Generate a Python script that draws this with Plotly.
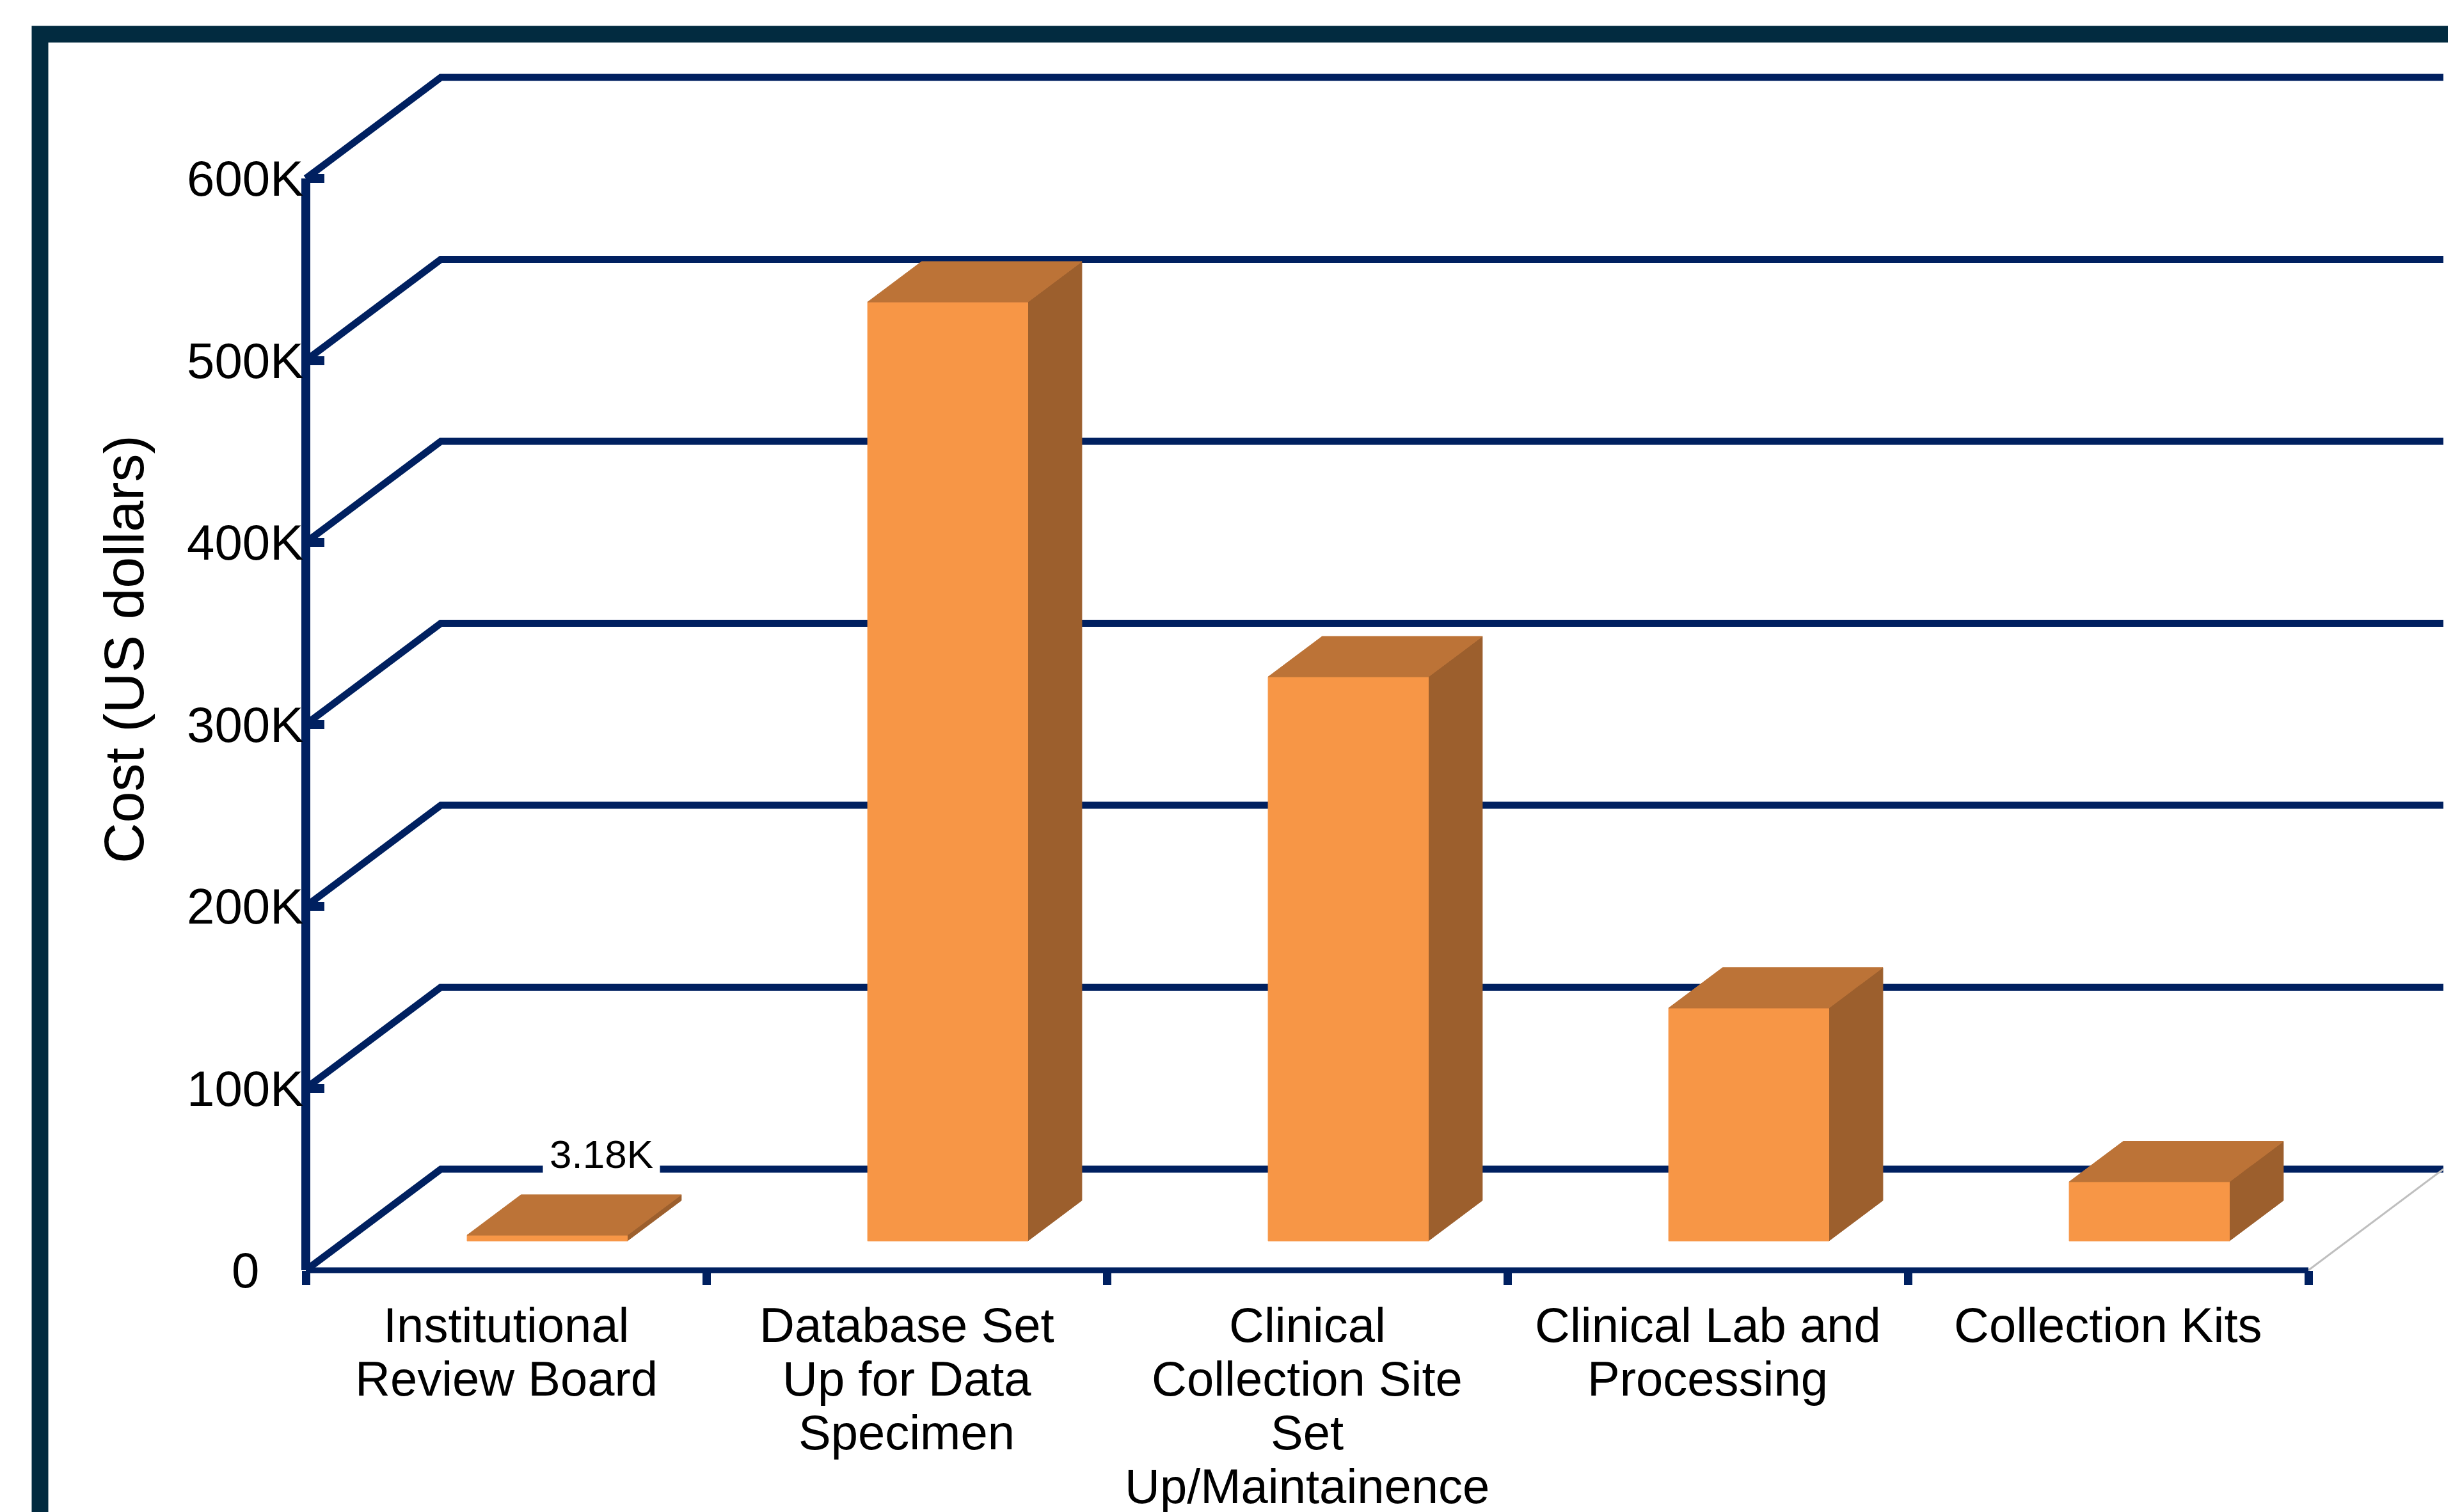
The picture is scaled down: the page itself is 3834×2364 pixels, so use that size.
import plotly.graph_objects as go

# ---------------- data ----------------
categories = [
    "Institutional Review Board",
    "Database Set Up for Data Specimen",
    "Clinical Collection Site Set Up/Maintainence",
    "Clinical Lab and Processing",
    "Collection Kits",
]
category_lines = [
    ["Institutional", "Review Board"],
    ["Database Set", "Up for Data", "Specimen"],
    ["Clinical", "Collection Site", "Set", "Up/Maintainence"],
    ["Clinical Lab and", "Processing"],
    ["Collection Kits"],
]
costs = [3180, 516000, 310000, 128000, 32500]
data_labels = ["3.18K", None, None, None, None]
y_tick_values = [0, 100000, 200000, 300000, 400000, 500000, 600000]
y_tick_labels = ["0", "100K", "200K", "300K", "400K", "500K", "600K"]
y_title = "Cost (US dollars)"

# ---------------- layout constants ----------------
W, H = 3834, 2364
OX, OY = 8, 8             # page offset of the figure (body margin)
X0_PX, CAT_PX = 478, 626  # pixel of x=0, pixels per category
Y0_PX, PX_PER_Y = 1986, 284.5 / 100000
DEPTH_X, DEPTH_Y = 0.337, 55540.0
BAR_C, BAR_HALF = 0.505, 0.2
F_FRONT, F_BACK = 0.29, 0.69
YLAB_X = (383 - X0_PX) / CAT_PX

FONT = "Liberation Sans, Arial, sans-serif"
NAVY = "#002060"
FRAME = "#022B40"
C_FRONT, C_TOP, C_SIDE = "#F79646", "#BC7337", "#9C5F2D"

n = len(categories)
x_range = [(OX - X0_PX) / CAT_PX, (OX + W - X0_PX) / CAT_PX]
y_range = [(Y0_PX - (OY + H)) / PX_PER_Y, (Y0_PX - OY) / PX_PER_Y]

fig = go.Figure()

# grid: left wall diagonals + back wall horizontals
gx, gy = [], []
for v in y_tick_values:
    gx += [0, DEPTH_X, n + DEPTH_X, None]
    gy += [v, v + DEPTH_Y, v + DEPTH_Y, None]
fig.add_trace(go.Scatter(x=gx, y=gy, mode="lines", line=dict(color=NAVY, width=11),
                         hoverinfo="skip", showlegend=False))
# right floor edge (thin gray)
fig.add_trace(go.Scatter(x=[n, n + DEPTH_X], y=[0, DEPTH_Y], mode="lines",
                         line=dict(color="#BFBFBF", width=3), hoverinfo="skip", showlegend=False))
# axis lines
fig.add_trace(go.Scatter(x=[0, 0], y=[0, y_tick_values[-1]], mode="lines",
                         line=dict(color=NAVY, width=14), hoverinfo="skip", showlegend=False))
fig.add_trace(go.Scatter(x=[0, n], y=[0, 0], mode="lines",
                         line=dict(color=NAVY, width=9), hoverinfo="skip", showlegend=False))


def face(xs, ys, color):
    fig.add_trace(go.Scatter(x=xs + [xs[0]], y=ys + [ys[0]], mode="lines", fill="toself",
                             fillcolor=color, line=dict(color=color, width=1),
                             hoverinfo="skip", showlegend=False))


for i, v in enumerate(costs):
    c = i + BAR_C
    xl, xr = c - BAR_HALF, c + BAR_HALF
    fx0, fy0 = F_FRONT * DEPTH_X, F_FRONT * DEPTH_Y
    fx1, fy1 = F_BACK * DEPTH_X, F_BACK * DEPTH_Y
    # side
    face([xr + fx0, xr + fx1, xr + fx1, xr + fx0], [fy0, fy1, v + fy1, v + fy0], C_SIDE)
    # front
    face([xl + fx0, xr + fx0, xr + fx0, xl + fx0], [fy0, fy0, v + fy0, v + fy0], C_FRONT)
    # top
    face([xl + fx0, xr + fx0, xr + fx1, xl + fx1], [v + fy0, v + fy0, v + fy1, v + fy1], C_TOP)

annotations = []
for i, lab in enumerate(data_labels):
    if lab:
        annotations.append(dict(
            x=i + BAR_C + F_BACK * DEPTH_X, y=costs[i] + F_BACK * DEPTH_Y,
            xref="x", yref="y", text=lab, showarrow=False, yanchor="middle", yshift=63,
            font=dict(family=FONT, size=62, color="#000000"), bgcolor="#FFFFFF", borderpad=10))

for v, t in zip(y_tick_values, y_tick_labels):
    annotations.append(dict(
        x=YLAB_X, y=v, xref="x", yref="y", text=t, showarrow=False,
        xanchor="center", yanchor="middle",
        font=dict(family=FONT, size=78, color="#000000")))

for i, lines in enumerate(category_lines):
    for k, t in enumerate(lines):
        annotations.append(dict(
            x=i + 0.5, y=0, xref="x", yref="y", text=t, showarrow=False,
            yanchor="middle", xanchor="center", yshift=-(85 + 84 * k),
            font=dict(family=FONT, size=76, color="#000000")))

annotations.append(dict(
    x=(193 - OX) / W, y=1 - (1015 - OY) / H, xref="paper", yref="paper", text=y_title,
    showarrow=False, textangle=-90, xanchor="center", yanchor="middle",
    font=dict(family=FONT, size=88, color="#000000")))

fig.update_layout(
    width=W, height=H, autosize=False,
    margin=dict(l=0, r=0, t=0, b=0, pad=0),
    paper_bgcolor="#FFFFFF", plot_bgcolor="#FFFFFF",
    showlegend=False,
    xaxis=dict(range=x_range, domain=[0, 1], anchor="free", position=(H - (Y0_PX - OY)) / H,
               showgrid=False, zeroline=False, showline=False, showticklabels=False,
               tickmode="array", tickvals=list(range(n + 1)), ticks="outside",
               ticklen=22, tickwidth=13, tickcolor=NAVY, fixedrange=True),
    yaxis=dict(range=y_range, domain=[0, 1], anchor="free", position=(X0_PX - OX) / W,
               showgrid=False, zeroline=False, showline=False, showticklabels=False,
               tickmode="array", tickvals=y_tick_values[1:], ticks="inside",
               ticklen=28, tickwidth=14, tickcolor=NAVY, fixedrange=True),
    annotations=annotations,
    shapes=[dict(type="rect", xref="paper", yref="paper",
                 x0=(62.5 - OX) / W, x1=1.2, y0=-0.2, y1=1 - (53.5 - OY) / H,
                 line=dict(color=FRAME, width=26), fillcolor="rgba(0,0,0,0)", layer="above")],
)

fig.write_html("out.html")
